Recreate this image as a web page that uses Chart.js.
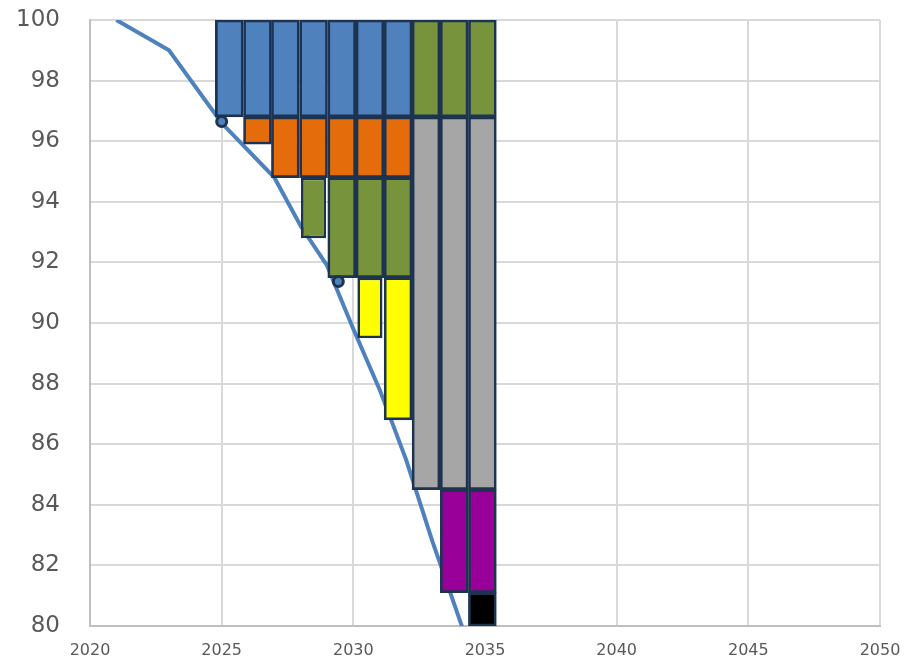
<!DOCTYPE html>
<html>
<head>
<meta charset="utf-8">
<script src="https://cdn.jsdelivr.net/npm/chart.js@4.4.0/dist/chart.umd.min.js"></script>
<style>
html,body{margin:0;padding:0;background:#ffffff;}
#wrap{width:912px;height:667px;}
</style>
</head>
<body>
<div id="wrap"><canvas id="c" width="912" height="667"></canvas></div>
<script>
// ---- data ----
const xTickValues = [2020, 2025, 2030, 2035, 2040, 2045, 2050];
const yTickValues = [80, 82, 84, 86, 88, 90, 92, 94, 96, 98, 100];

// centres of the ten bar columns (years)
const columnYears = [2025.29, 2026.36, 2027.42, 2028.49, 2029.56, 2030.63, 2031.70, 2032.76, 2033.83, 2034.90];

// floating segments per column: [low, high] or null
const blueRanges        = [[96.8,100],[96.8,100],[96.8,100],[96.8,100],[96.8,100],[96.8,100],[96.8,100],null,null,null];
const orangeRanges      = [null,[95.9,96.8],[94.8,96.8],[94.8,96.8],[94.8,96.8],[94.8,96.8],[94.8,96.8],null,null,null];
const greenTopRanges    = [null,null,null,null,null,null,null,[96.8,100],[96.8,100],[96.8,100]];
const greenNarrowRanges = [null,null,null,[92.8,94.8],null,null,null,null,null,null];
const greenRanges       = [null,null,null,null,[91.5,94.8],[91.5,94.8],[91.5,94.8],null,null,null];
const grayRanges        = [null,null,null,null,null,null,null,[84.5,96.8],[84.5,96.8],[84.5,96.8]];
const yellowNarrowRanges= [null,null,null,null,null,[89.5,91.5],null,null,null,null];
const yellowRanges      = [null,null,null,null,null,null,[86.8,91.5],null,null,null];
const purpleRanges      = [null,null,null,null,null,null,null,null,[81.1,84.5],[81.1,84.5]];
const blackRanges       = [null,null,null,null,null,null,null,null,null,[80,81.1]];

// descending line
const lineYears  = [2021, 2023, 2025, 2027, 2028, 2029, 2030, 2031, 2032, 2033, 2034, 2035];
const lineValues = [100, 99, 96.6, 94.8, 93.2, 91.9, 89.8, 87.8, 85.5, 82.8, 80.3, 77.8];

// two marker points
const markerYears  = [2025.0, 2029.43];
const markerValues = [96.65, 91.37];

// ---- build ----
function toBars(ranges){
  const out = [];
  columnYears.forEach((x,i)=>{ if(ranges[i]) out.push({x:x, y:ranges[i]}); });
  return out;
}
const NAVY = '#1d3350';
function barSet(ranges, color, pct){
  return {
    type:'bar',
    data: toBars(ranges),
    backgroundColor: color,
    borderColor: NAVY,
    borderWidth: 2.7,
    borderSkipped: false,
    grouped: false,
    barPercentage: pct || 1,
    categoryPercentage: 1,
    order: 2
  };
}

const datasets = [
  {
    type:'line',
    data: lineYears.map((x,i)=>({x:x, y:lineValues[i]})),
    borderColor:'#4f81bd',
    borderWidth:4,
    pointRadius:0,
    tension:0,
    fill:false,
    order:3
  },
  barSet(blueRanges, '#4f81bd'),
  barSet(orangeRanges, '#e46c0a'),
  barSet(greenTopRanges, '#77933c'),
  barSet(greenNarrowRanges, '#77933c', 0.9),
  barSet(greenRanges, '#77933c'),
  barSet(grayRanges, '#a6a6a6'),
  barSet(yellowNarrowRanges, '#ffff00', 0.9),
  barSet(yellowRanges, '#ffff00'),
  barSet(purpleRanges, '#990099'),
  barSet(blackRanges, '#000000'),
  {
    type:'line',
    data: markerYears.map((x,i)=>({x:x, y:markerValues[i]})),
    showLine:false,
    pointRadius:5,
    pointBorderWidth:3,
    pointBackgroundColor:'#4f81bd',
    pointBorderColor: NAVY,
    order:1
  }
];

new Chart(document.getElementById('c'), {
  type:'bar',
  data:{ datasets: datasets },
  options:{
    responsive:false,
    animation:false,
    devicePixelRatio:1,
    layout:{ padding:{ top:20, right:32, left:0, bottom:0 } },
    plugins:{ legend:{display:false}, tooltip:{enabled:false} },
    scales:{
      x:{
        type:'linear',
        offset:false,
        min: xTickValues[0],
        max: xTickValues[xTickValues.length-1],
        afterBuildTicks(scale){ scale.ticks = xTickValues.map(v=>({value:v})); },
        afterFit(scale){ scale.height = 41; scale.paddingLeft = 0; scale.paddingRight = 0; },
        grid:{ offset:false, color:'#d9d9d9', lineWidth:2, drawTicks:false },
        border:{ color:'#bfbfbf', width:2 },
        ticks:{
          padding:15,
          color:'#595959',
          font:{ family:'DejaVu Sans', size:16 },
          maxRotation:0,
          autoSkip:false,
          callback:(v)=>String(v)
        }
      },
      y:{
        type:'linear',
        min: yTickValues[0],
        max: yTickValues[yTickValues.length-1],
        afterBuildTicks(scale){ scale.ticks = yTickValues.map(v=>({value:v})); },
        afterFit(scale){ scale.width = 90; scale.paddingTop = 0; scale.paddingBottom = 0; },
        grid:{ color:'#d9d9d9', lineWidth:2, drawTicks:false },
        border:{ color:'#bfbfbf', width:2 },
        ticks:{
          padding:30,
          color:'#595959',
          font:{ family:'DejaVu Sans', size:23 },
          autoSkip:false,
          callback:(v)=>String(v)
        }
      }
    }
  }
});
</script>
</body>
</html>
